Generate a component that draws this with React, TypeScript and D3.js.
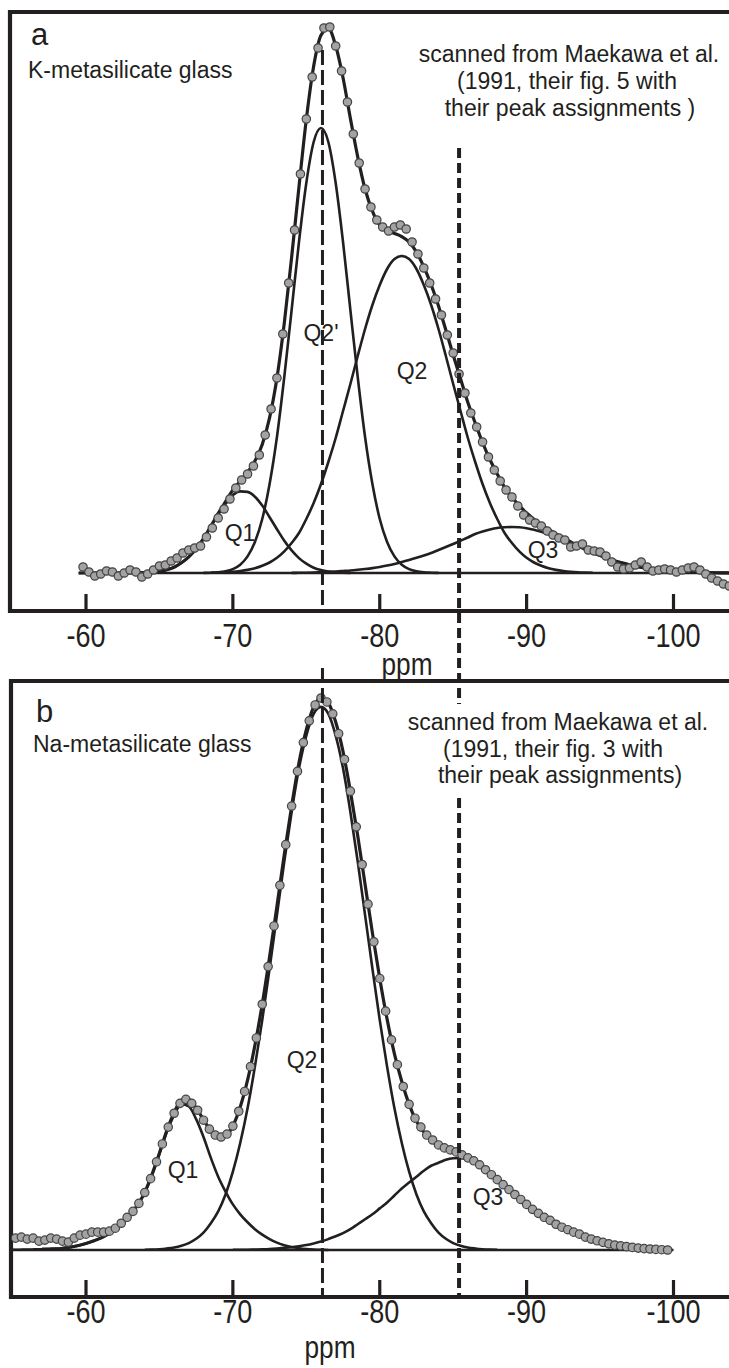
import React from "react";
import * as d3 from "d3";

const WIDTH = 729;
const HEIGHT = 1368;

// axis ticks (ppm)
const tickValues = [-60, -70, -80, -90, -100];
const tickLabels = ["-60", "-70", "-80", "-90", "-100"];

// reference positions (ppm) of the two dashed marker lines
const dashA = -76.1;
const dashB = -85.4;

// component curves are read on a 0.5 ppm grid, dots on a 0.4 ppm grid
const GRID = 0.5;
const DOT_STEP = 0.4;

// ---------- panel a : K-metasilicate glass (intensity, a.u.) ----------
const aQ1Start = -63.5;
const aQ1 = [0.15, 0.35, 0.8, 1.6, 3.2, 5.8, 10.2, 16.1, 24.2, 34.3, 46.3, 58.5, 69, 77.9, 81.6, 81.1, 76.3, 67.4, 55.8, 43.8, 32.3, 22.6, 14.9, 9.3, 5.3, 2.9, 1.5, 0.7, 0.3, 0.1];

const aQ2pStart = -68;
const aQ2p = [0.1, 0.3, 0.7, 1.7, 3.9, 8.3, 16.6, 31, 54, 89, 136, 196, 263, 331, 390, 431, 445, 431, 390, 331, 263, 196, 136, 89, 54, 31, 16.6, 8.3, 3.9, 1.7, 0.7, 0.3, 0.1];

const aQ2Start = -68.5;
const aQ2 = [0.2, 0.4, 0.7, 1.2, 2, 3.1, 4.7, 7.2, 10.5, 15.2, 21.6, 30, 40, 54, 70, 89, 111, 135, 162, 189, 217, 244, 268, 288, 304, 314, 317, 314, 304, 288, 268, 244, 217, 189, 162, 135, 111, 89, 70, 54, 40, 30, 21.6, 15.2, 10.5, 7.2, 4.7, 3.1, 2, 1.2, 0.7, 0.4, 0.2];

const aQ3Start = -74;
const aQ3 = [0.1, 0.2, 0.3, 0.5, 0.8, 1.1, 1.5, 2, 2.5, 3.2, 4, 4.9, 6, 7.4, 9, 11, 13, 15.2, 17.5, 20, 23, 26, 29, 32.3, 35.5, 39, 41.5, 43.5, 45, 45.7, 46, 45.7, 44.8, 43.3, 41.3, 38.9, 36.1, 33, 29.9, 26.6, 23.4, 20.3, 17.4, 14.7, 12.2, 10.1, 8.2, 6.6, 5.2, 4, 3.1, 2.3, 1.8, 1.3, 0.9, 0.7, 0.5, 0.3, 0.2, 0.1, 0];

const aDotStart = -59.8;
const aDots = [
  6, 1, -3, -1, 2, 1, -3, 0, 3, 1,
  -4, -1, 3, 7, 8, 12, 15, 20, 23, 25,
  27, 36, 45, 55, 64, 74, 85, 93, 99, 107,
  118, 138, 164, 195, 239, 290, 343, 399, 454, 496,
  525, 545, 546, 527, 502, 471, 439, 410, 384, 366,
  353, 346, 342, 346, 348, 344, 331, 319, 305, 290,
  274, 258, 238, 220, 199, 180, 160, 146, 131, 116,
  103, 92, 83, 76, 67, 58, 53, 50, 47, 42,
  38, 35, 33, 26, 27, 29, 23, 22, 21, 17,
  11, 6, 4, 5, 8, 11, 6, 2, 3, 4,
  3, 1, 3, 5, 6, 3, -1, -5, -8, -11, -13,
];

// ---------- panel b : Na-metasilicate glass ----------
const bQ1Start = -55;
const bQ1 = [0.2, 0.3, 0.4, 0.6, 0.8, 1, 1.2, 2, 3, 4.5, 6.5, 9, 12, 16, 21, 27, 35, 45, 58, 76, 97, 119, 136, 147, 145, 132, 114, 93, 74, 59, 46, 36, 28, 21, 15.5, 11, 7.4, 4.9, 3, 1.8, 1, 0.5, 0.2, 0];

const bQ2Start = -64;
const bQ2 = [0.2, 0.4, 0.8, 1.5, 2.5, 4.3, 7, 11.3, 17.5, 27, 39, 56, 79, 108, 143, 185, 232, 284, 338, 392, 442, 486, 519, 541, 548, 541, 519, 486, 442, 392, 338, 284, 232, 185, 143, 108, 79, 56, 39, 27, 17.5, 11.3, 7, 4.3, 2.5, 1.5, 0.8, 0.4, 0.2];

const bQ3Start = -70;
const bQ3 = [0.2, 0.25, 0.3, 0.5, 0.7, 1, 1.5, 2.1, 2.8, 3.8, 5, 6.6, 8.5, 11, 13.8, 17, 21, 26, 31, 36, 42, 48, 55, 62, 68, 74, 80, 85, 88, 91, 92.6, 93, 91, 88, 83, 77, 71, 65, 59, 52.5, 46, 40, 35, 30, 26, 22.5, 19, 16, 13, 10.5, 8.5, 6.5, 5, 4, 3, 2, 1.4, 0.9, 0.5, 0.2, 0];

const bDotStart = -55.2;
const bDots = [
  12, 13, 11, 12, 9, 10, 12, 11, 9, 8,
  12, 15, 16, 18, 18, 18, 19, 22, 27, 33,
  39, 47, 58, 72, 89, 107, 124, 138, 148, 152,
  148, 141, 131, 122, 116, 114, 117, 125, 140, 160,
  185, 214, 248, 286, 327, 368, 409, 448, 483, 512,
  534, 550, 557, 553, 541, 521, 495, 463, 427, 389,
  349, 311, 274, 241, 212, 187, 165, 147, 133, 124,
  116, 111, 106, 103, 101, 99, 96, 93, 90, 86,
  81, 76, 71, 66, 61, 56, 51, 46, 41, 37,
  33, 30, 26, 23, 20.5, 18, 16, 13, 11, 9.3,
  7.7, 6.2, 5, 4.2, 3.4, 2.6, 1.9, 1.4, 1, 0.6,
  0.3, 0,
];

// ---------- helpers ----------
type Pt = [number, number];
type Comp = { start: number; values: number[] };

const toPoints = (start: number, step: number, values: number[]): Pt[] =>
  values.map((v, i) => [start - i * step, v]);

// fitted envelope = sum of the read component curves on the common grid
function envelope(comps: Comp[], from: number, to: number): Pt[] {
  const m = new Map<number, number>();
  comps.forEach((c) =>
    c.values.forEach((v, i) => {
      const k = Math.round((c.start - i * GRID) * 2);
      m.set(k, (m.get(k) || 0) + v);
    })
  );
  const out: Pt[] = [];
  for (let k = Math.round(from * 2); k >= Math.round(to * 2); k--) out.push([k / 2, m.get(k) || 0]);
  return out;
}

const FONT = "'Liberation Sans', Arial, Helvetica, sans-serif";
const INK = "#231f20";

const xs = d3.scaleLinear().domain([-60, -100]).range([86, 673.5]);

type PanelProps = {
  comps: Comp[];
  dots: Pt[];
  env: Pt[];
  y: d3.ScaleLinear<number, number>;
  top: number;
  left: number;
  axisY: number;
  baseFrom: number;
  baseTo: number;
  tickLabelY: number;
};

function Panel({ comps, dots, env, y, top, left, axisY, baseFrom, baseTo, tickLabelY }: PanelProps) {
  const line = d3
    .line<Pt>()
    .x((d) => xs(d[0]))
    .y((d) => y(d[1]))
    .curve(d3.curveMonotoneX);
  return (
    <g>
      {/* frame */}
      <path d={`M${WIDTH + 5},${top} H${left} V${axisY} H${WIDTH + 5}`} fill="none" stroke={INK} strokeWidth={4.2} />
      {/* ticks */}
      {tickValues.map((t) => (
        <line key={t} x1={xs(t)} x2={xs(t)} y1={axisY} y2={axisY - 17} stroke={INK} strokeWidth={3.2} />
      ))}
      {tickValues.map((t, i) => (
        <text
          key={"l" + t}
          transform={`translate(${xs(t)},${tickLabelY}) scale(0.82,1)`}
          textAnchor="middle"
          fontFamily={FONT}
          fontSize={33}
          fill={INK}
        >
          {tickLabels[i]}
        </text>
      ))}
      {/* zero line */}
      <line x1={baseFrom} x2={baseTo} y1={y(0)} y2={y(0)} stroke={INK} strokeWidth={2.4} />
      {/* component peaks */}
      {comps.map((c, i) => (
        <path key={i} d={line(toPoints(c.start, GRID, c.values)) || ""} fill="none" stroke={INK} strokeWidth={2.6} />
      ))}
      {/* fitted envelope */}
      <path d={line(env) || ""} fill="none" stroke={INK} strokeWidth={3.2} />
      {/* measured spectrum */}
      {dots.map((d, i) => (
        <circle key={i} cx={xs(d[0])} cy={y(d[1])} r={4.2} fill="#a3a3a3" stroke="#444" strokeWidth={1.2} />
      ))}
    </g>
  );
}

export default function App() {
  const ya = d3.scaleLinear().domain([0, 548]).range([573, 25]);
  const yb = d3.scaleLinear().domain([0, 557]).range([1250, 698]);

  const aComps: Comp[] = [
    { start: aQ1Start, values: aQ1 },
    { start: aQ2pStart, values: aQ2p },
    { start: aQ2Start, values: aQ2 },
    { start: aQ3Start, values: aQ3 },
  ];
  const bComps: Comp[] = [
    { start: bQ1Start, values: bQ1 },
    { start: bQ2Start, values: bQ2 },
    { start: bQ3Start, values: bQ3 },
  ];
  const aEnv = envelope(aComps, -59.5, -104);
  const bEnv = envelope(bComps, -57, -98);

  const txt = (x: number, y: number, s: string, size: number, anchor = "start", key?: string) => (
    <text key={key ?? s + y} x={x} y={y} fontFamily={FONT} fontSize={size} fill={INK} textAnchor={anchor}>
      {s}
    </text>
  );

  return (
    <svg
      width={WIDTH}
      height={HEIGHT}
      viewBox={`0 0 ${WIDTH} ${HEIGHT}`}
      style={{ position: "absolute", left: 0, top: 0, display: "block", background: "#fff" }}
    >
      <rect x={0} y={0} width={WIDTH} height={HEIGHT} fill="#fff" />
      <Panel
        comps={aComps}
        dots={toPoints(aDotStart, DOT_STEP, aDots)}
        env={aEnv}
        y={ya}
        top={12}
        left={10}
        axisY={611}
        baseFrom={xs(-59.5)}
        baseTo={WIDTH + 5}
        tickLabelY={647}
      />
      <Panel
        comps={bComps}
        dots={toPoints(bDotStart, DOT_STEP, bDots)}
        env={bEnv}
        y={yb}
        top={681}
        left={11}
        axisY={1297}
        baseFrom={11}
        baseTo={xs(-97.5)}
        tickLabelY={1323}
      />

      {/* dashed marker lines */}
      <line x1={xs(dashA)} x2={xs(dashA)} y1={50} y2={611} stroke={INK} strokeWidth={3} strokeDasharray="15 5" />
      <line x1={xs(dashA)} x2={xs(dashA)} y1={668} y2={1297} stroke={INK} strokeWidth={3} strokeDasharray="15 5" />
      <line x1={xs(dashB)} x2={xs(dashB)} y1={148} y2={704} stroke={INK} strokeWidth={4} strokeDasharray="10 5" />
      <line x1={xs(dashB)} x2={xs(dashB)} y1={798} y2={1297} stroke={INK} strokeWidth={4} strokeDasharray="10 5" />

      {/* ppm axis titles */}
      <text transform={`translate(407,675) scale(0.82,1)`} textAnchor="middle" fontFamily={FONT} fontSize={32} fill={INK}>ppm</text>
      <text transform={`translate(330,1358) scale(0.82,1)`} textAnchor="middle" fontFamily={FONT} fontSize={32} fill={INK}>ppm</text>

      {/* panel a texts */}
      {txt(31, 45, "a", 31)}
      {txt(28, 78, "K-metasilicate glass", 23)}
      {txt(569, 62, "scanned from Maekawa et al.", 23, "middle")}
      {txt(567, 89, "(1991, their fig. 5 with", 23, "middle")}
      {txt(570, 116, "their peak assignments )", 23, "middle")}
      {txt(321, 341, "Q2'", 23, "middle")}
      {txt(412, 379, "Q2", 23, "middle")}
      {txt(240, 541, "Q1", 23, "middle")}
      {txt(543, 558, "Q3", 23, "middle")}

      {/* panel b texts */}
      {txt(36, 722, "b", 31)}
      {txt(33, 752, "Na-metasilicate glass", 23)}
      {txt(558, 730, "scanned from Maekawa et al.", 23, "middle")}
      {txt(553, 757, "(1991, their fig. 3 with", 23, "middle")}
      {txt(560, 783, "their peak assignments)", 23, "middle")}
      {txt(183, 1178, "Q1", 23, "middle")}
      {txt(302, 1068, "Q2", 23, "middle")}
      {txt(488, 1205, "Q3", 23, "middle")}
    </svg>
  );
}
